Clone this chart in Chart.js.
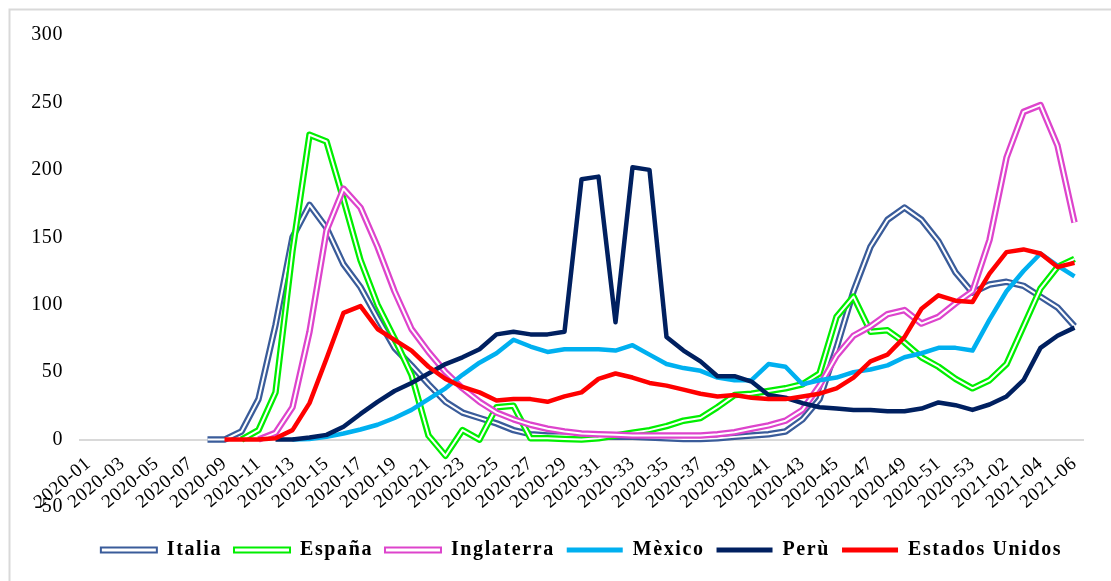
<!DOCTYPE html>
<html>
<head>
<meta charset="utf-8">
<script src="https://cdn.jsdelivr.net/npm/chart.js@4.4.1/dist/chart.umd.min.js"></script>
<style>
  html, body { margin: 0; padding: 0; background: #fff; }
  #wrap { width: 1111px; height: 581px; position: relative; }
</style>
</head>
<body>
<div id="wrap"><canvas id="weeklyChart"></canvas></div>
<script>
const weeks = [
  '2020-01','2020-02','2020-03','2020-04','2020-05','2020-06','2020-07','2020-08','2020-09','2020-10',
  '2020-11','2020-12','2020-13','2020-14','2020-15','2020-16','2020-17','2020-18','2020-19','2020-20',
  '2020-21','2020-22','2020-23','2020-24','2020-25','2020-26','2020-27','2020-28','2020-29','2020-30',
  '2020-31','2020-32','2020-33','2020-34','2020-35','2020-36','2020-37','2020-38','2020-39','2020-40',
  '2020-41','2020-42','2020-43','2020-44','2020-45','2020-46','2020-47','2020-48','2020-49','2020-50',
  '2020-51','2020-52','2020-53','2021-01','2021-02','2021-03','2021-04','2021-05','2021-06'
];

const italia = [null, null, null, null, null, null, null,
  0, 0, 6, 30, 85, 150, 174, 157, 130, 113, 90, 68, 55, 41, 28, 20, 16, 12, 7, 4, 3, 3, 2.5, 2,
  2, 2, 1.5, 1, 0.5, 0.5, 1, 2, 3, 4, 6, 15, 30, 68, 110, 143, 163, 172, 163, 147,
  124, 109, 115, 117, 114, 106, 98, 84];

const espana = [null, null, null, null, null, null, null, null, null,
  0, 7, 35, 140, 226, 221, 178, 133, 100, 75, 48, 3, -12, 7, 0, 24, 25, 1, 1, 0.5, 0, 1,
  3, 5, 7, 10, 14, 16, 24, 33, 34, 36, 38, 41, 49, 91, 106, 80, 81, 72, 61, 54,
  45, 38, 44, 56, 84, 112, 128, 134];

const inglaterra = [null, null, null, null, null, null, null, null, null, null,
  0, 5, 24, 80, 155, 186, 172, 143, 110, 82, 65, 50, 38, 28, 20, 15, 11, 8, 6, 4.5,
  4, 3.5, 3, 3, 3, 3, 3, 4, 5.5, 8, 10.5, 14, 22, 40, 62, 77, 84, 93, 96, 86,
  91, 101, 110, 148, 209, 243, 248, 218, 161];

const mexico = [null, null, null, null, null, null, null, null, null, null, null, null,
  0, 0.5, 2, 4.5, 7.5, 11, 16, 22, 30, 38, 48, 57, 64, 74, 69, 65, 67, 67, 67,
  66, 70, 63, 56, 53, 51, 46, 44, 44, 56, 54, 41, 44, 46, 50, 52, 55, 61, 64, 68,
  68, 66, 89, 110, 125, 138, 129, 121];

const peru = [null, null, null, null, null, null, null, null, null, null, null,
  0, 0, 1.5, 3.5, 9.5, 19, 28, 36, 42, 49, 56, 61, 67, 78, 80, 78, 78, 80, 193, 195,
  87, 202, 200, 76, 66, 58, 47, 47, 43, 33, 31, 27, 24, 23, 22, 22, 21, 21, 23, 27.5,
  25.5, 22, 26, 32, 44, 68, 77, 83];

const estadosUnidos = [null, null, null, null, null, null, null, null,
  0, 0, 0, 1, 7, 27, 60, 94, 99, 82, 74, 66, 54, 45, 39, 35, 29, 30, 30, 28, 32, 35, 45,
  49, 46, 42, 40, 37, 34, 32, 33, 31, 30, 30, 32, 34, 38, 46, 58, 63, 76, 97, 107,
  103, 102, 123, 139, 141, 138, 128, 131];

const series = [
  { name: 'Italia', data: italia, color: '#3a5c9a', double: true },
  { name: 'España', data: espana, color: '#00ee00', double: true },
  { name: 'Inglaterra', data: inglaterra, color: '#dd44cc', double: true },
  { name: 'Mèxico', data: mexico, color: '#00b0f0', double: false },
  { name: 'Perù', data: peru, color: '#002060', double: false },
  { name: 'Estados Unidos', data: estadosUnidos, color: '#ff0000', double: false }
];

const serifFont = "'Times New Roman', 'Liberation Serif', serif";

// first dataset is painted last, so build from the top series down
const datasets = [];
series.slice().reverse().forEach(s => {
  if (s.double) {
    datasets.push({
      label: s.name + ' inner',
      data: s.data,
      borderColor: '#ffffff',
      borderWidth: 2,
      pointRadius: 0,
      tension: 0,
      borderJoinStyle: 'round',
      fill: false
    });
  }
  datasets.push({
    label: s.name,
    data: s.data,
    borderColor: s.color,
    backgroundColor: s.color,
    borderWidth: s.double ? 6.5 : 4.5,
    pointRadius: 0,
    tension: 0,
    borderJoinStyle: 'round',
    fill: false
  });
});

const framePlugin = {
  id: 'frame',
  beforeDraw(chart) {
    const ctx = chart.ctx;
    ctx.save();
    ctx.fillStyle = '#ffffff';
    ctx.fillRect(0, 0, chart.width, chart.height);
    ctx.strokeStyle = '#d9d9d9';
    ctx.lineWidth = 2;
    ctx.beginPath();
    ctx.moveTo(9.5, chart.height);
    ctx.lineTo(9.5, 9.5);
    ctx.lineTo(chart.width, 9.5);
    ctx.stroke();
    ctx.restore();
  }
};

// the original text is a bit stretched sideways; letter spacing gets close
const spacingPlugin = {
  id: 'spacing',
  beforeLayout(chart) { chart.ctx.letterSpacing = '1.6px'; },
  afterLayout(chart) { chart.ctx.letterSpacing = '0px'; },
  beforeDraw(chart) { chart.ctx.letterSpacing = '1.6px'; },
  beforeDatasetsDraw(chart) { chart.ctx.letterSpacing = '0px'; },
  afterDatasetsDraw(chart) { chart.ctx.letterSpacing = '0.6px'; },
  afterDraw(chart) { chart.ctx.letterSpacing = '0px'; }
};

const ctx = document.getElementById('weeklyChart').getContext('2d');
new Chart(ctx, {
  type: 'line',
  data: { labels: weeks, datasets: datasets },
  plugins: [framePlugin, spacingPlugin],
  options: {
    responsive: true,
    maintainAspectRatio: false,
    animation: false,
    layout: { padding: { left: 10, right: 28, top: 35, bottom: 11 } },
    scales: {
      x: {
        position: { y: 0 },
        offset: true,
        grid: { display: false, drawTicks: false },
        border: { display: true, color: '#d9d9d9', width: 2 },
        ticks: {
          z: 1,
          autoSkip: false,
          minRotation: 40,
          maxRotation: 40,
          padding: 13,
          color: '#000',
          font: { family: serifFont, size: 19 },
          callback: (v, i) => (i % 2 === 0 ? weeks[i] : '')
        },
        afterFit: scale => { scale.height = 0; }
      },
      y: {
        min: -50,
        max: 300,
        grid: { display: false, drawTicks: false },
        border: { display: false },
        ticks: {
          z: 1,
          stepSize: 50,
          padding: 17,
          color: '#000',
          font: { family: serifFont, size: 20 }
        },
        afterFit: scale => { scale.width = 70; }
      }
    },
    plugins: {
      tooltip: { enabled: false },
      legend: {
        position: 'bottom',
        fullSize: false,
        title: { display: true, text: '', padding: 0, font: { size: 17.5 } },
        labels: {
          boxWidth: 56,
          boxHeight: 5,
          padding: 12,
          color: '#000',
          font: { family: serifFont, size: 20, weight: 'bold' },
          generateLabels: () => series.map(s => ({
            text: s.name,
            fillStyle: s.double ? '#ffffff' : s.color,
            strokeStyle: s.color,
            lineWidth: s.double ? 2 : 0,
            hidden: false,
            fontColor: '#000'
          }))
        }
      }
    }
  }
});
</script>
</body>
</html>
